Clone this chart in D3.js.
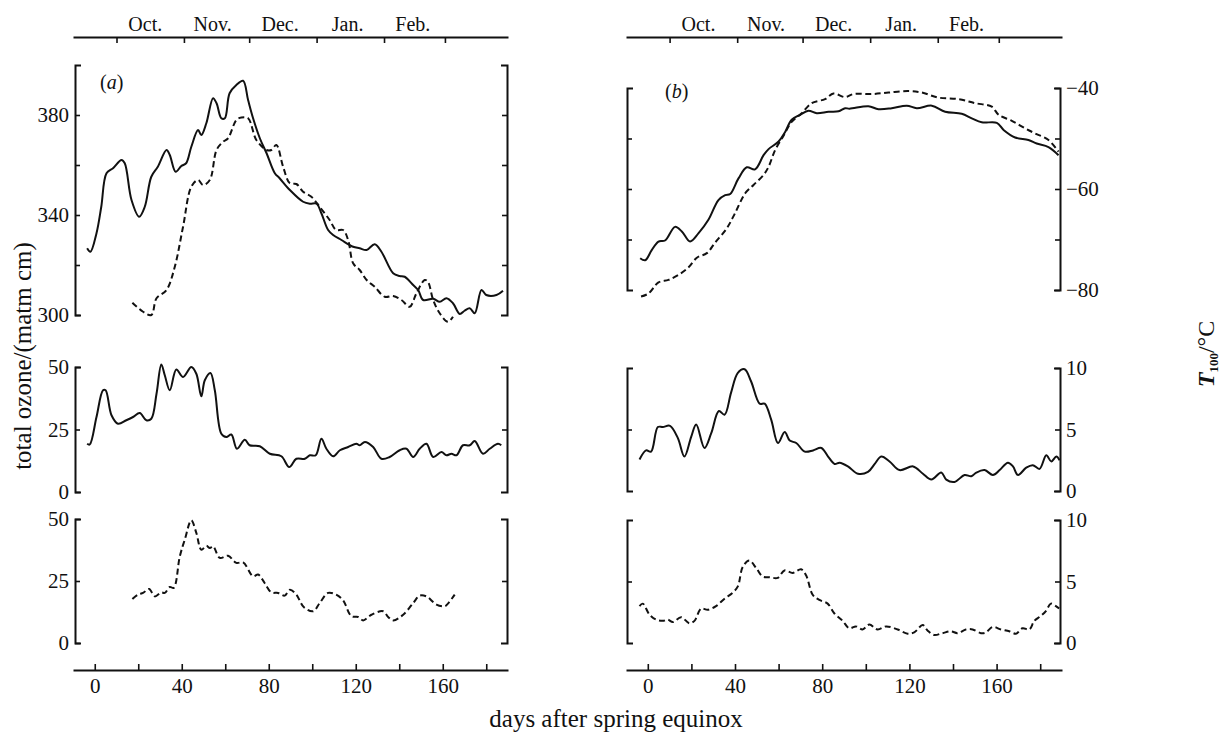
<!DOCTYPE html>
<html>
<head>
<meta charset="utf-8">
<script src="https://cdn.jsdelivr.net/npm/d3@7"></script>
<style>
body { margin: 0; background: #fff; }
svg text { font-family: "Liberation Serif", "Times New Roman", serif; fill: #111; }
</style>
</head>
<body>
<svg id="chart" width="1224" height="734"></svg>
<script>
// month axis (days after spring equinox)
var monthStarts = [10, 41, 71, 102, 133, 161];
var monthMids = [23, 54, 85, 116, 146];
var monthNames = ["Oct.", "Nov.", "Dec.", "Jan.", "Feb."];
var dayTicks = [0, 20, 40, 60, 80, 100, 120, 140, 160, 180];
var dayLabels = [0, 40, 80, 120, 160];

// (a) total ozone, solid / dashed
var aOzoneSolidDays = [-3.5,-2,0.8,3,5.4,8.4,12.3,13.8,16.9,20.4,23,26,29,33,34.5,37.2,39.8,42,44.4,47.5,49,51.3,54.4,56,58.2,59.8,62,65.1,68.2,70.5,72.8,75.9,79,82.8,85,89.7,95.8,98.9,102,104.2,107.3,109.6,113.4,118.8,121.8,125,128.7,131.8,137.2,140.2,142.5,146.4,148.7,151,155.6,158.6,161.7,164.7,167.8,170,172.4,174.7,177.8,180,184.7,187.7];
var aOzoneSolid = [326.7,325.3,332.7,343.3,356.7,358.7,362,360.7,346,339.3,343.3,355.3,359.3,366,364,357.3,359.6,360.7,367.3,374,372,376.7,386.7,384.7,378.7,378.7,388.7,392,393.7,386,378.7,370.7,364.7,356.7,354.7,350,345.3,344.5,344.5,340.7,334,332,330,327.3,326.7,326,328.3,325.3,316.7,315.6,315.3,312,310,306,306.5,305.3,306.7,304.7,300.4,301.7,302.7,300.7,310,308,308,309.7];
var aOzoneDashDays = [17.3,22.2,26,28.4,33,36.8,40.6,44.4,47.5,49.8,52.9,56,59,61.3,65.1,67.4,70.5,74.3,79,81.2,83.5,86.6,89.7,92.7,95.8,99.6,103.4,108,111,114.2,116.5,118.8,121.8,125,128.7,133.3,137.2,141,144.8,147.9,151.7,153.2,155.6,158.6,162.4,164.7];
var aOzoneDash = [304.9,301.3,300,306.7,310,319.3,335.3,351.3,354,352,354,366,369.3,370.7,378,379,378.7,370,366,366,368,359.3,352.7,352.4,349.3,347.3,343.3,338,334,334,330,320.7,318,314,311.3,307.3,307.6,306,303.3,308.7,314,313.3,306,300.7,297.3,299.3];

// (a) lower panels
var aMidDays = [-3.5,-2.3,0.8,3.8,5,7.7,10.7,14.5,17.6,20.7,23.7,26,28.4,30.6,32.2,34.5,37.5,40.6,44.4,46.7,49,50.6,53.2,55.2,58.2,60.5,62.8,65.4,69,71.2,75.9,80.5,85.8,89.4,92.7,96.6,98.9,101.6,104.2,106.5,109.6,112.7,116.5,120.3,121.8,124.2,128,131.8,135.6,140.2,143.3,146.4,149.4,152.5,155.6,159.4,161.7,164,166.3,169.3,172.4,174.7,178.5,181.6,185.4,186.9];
var aMid = [19.3,19,30,40.7,40.7,30.7,27.3,28.7,30,31.6,28.7,29.3,39.3,51,46.7,40.7,49,46,50,47.3,38.3,44.7,47.6,40.7,23.3,22,23,17.3,20.9,18.7,18.3,15.3,14.3,10,13.3,13.3,14.7,14.7,21.3,17.3,14.3,16.7,18,19.3,18.7,20,18,13.3,14,16.7,17.3,14,17.3,19.3,14,16,14.7,15.3,14.7,18.7,18.7,20.4,15.3,17.3,19.3,18.7];
var aBotDays = [17.3,19.9,22.2,25,27.6,30.6,32.2,34.5,36.3,39.1,41.4,44.4,46.7,49,51.3,52.9,54.4,57.5,61.3,65.1,68.2,72.8,75.1,78.1,81.2,84.3,87.3,89.7,92.7,96.1,100.4,103.4,107.3,111,114.2,118,121.1,123.4,127.2,132.6,134.9,137.2,141.8,146.4,149.4,152.5,157.1,160.9,162.4,165.5];
var aBot = [17.7,19.5,20.2,21.8,18.8,20.4,20.2,22.6,22.2,34.9,41.7,49.5,44.4,37.6,39.2,38.3,39,34.3,35.2,32.3,32.5,26.9,27.6,24.2,20.4,20.2,19.1,21.5,19.5,14.5,12.8,16.1,20.2,19.5,17.2,10.8,10.5,9.1,11.4,12.8,10.5,9.1,11.4,16.1,19.1,18.8,15.5,14.8,15.9,19.5];

// (b) T100, solid / dashed
var bTempSolidDays = [-3.5,-1.2,1.8,4.9,7.9,12.5,15.6,19.4,23.2,27.8,32.4,35.5,37.8,41.6,45.4,49.2,53.1,55.4,60,63,66,69.9,73.7,77.5,82.9,87.5,90.5,92.5,101.2,105.8,111.9,118.8,123.4,130.3,136.4,144,148.6,153.2,160.1,163.2,168.5,174.6,178.4,183.8,188.4];
var bTempSolid = [-73.7,-74.1,-72.1,-70.4,-70.2,-67.5,-68.4,-70.4,-68.8,-66.1,-62.2,-61.2,-61,-57.9,-55.7,-56.1,-53.3,-52.1,-50.6,-48.7,-46.3,-45.3,-44.5,-45,-44.7,-44.6,-44,-44.1,-43.6,-44.2,-44,-43.5,-44,-43.5,-44.7,-45.1,-46,-46.8,-46.9,-48.3,-49.8,-50.3,-51,-51.7,-53.3];
var bTempDashDays = [-3.1,0.3,4.9,9.5,14.1,18.7,22.5,27.1,30.9,36.2,40,44.6,48.5,53.1,55.4,58.4,62.2,66,70.6,75.2,81.3,85.2,90.5,94.3,102.8,110.4,119.6,125.7,133.3,142.5,150.1,157.8,160.9,167,173.1,177.7,183.8,188.4];
var bTempDash = [-81.3,-80.7,-78.5,-78,-77,-75.5,-73.6,-72.7,-70.6,-67.8,-64.8,-60.9,-59.2,-57.2,-55.6,-52.3,-49.5,-46.7,-45,-43,-42.2,-41.1,-41.8,-41.2,-41.2,-40.9,-40.6,-40.9,-41.9,-42.2,-43,-43.7,-45.3,-46.5,-48,-49,-50.3,-52.6];

// (b) lower panels
var bMidDays = [-3.8,-0.8,1.5,4.6,6.9,10.2,13.8,16.8,19.9,22.2,26,29.1,32.6,35.2,38.2,41.3,44.4,47.4,51.3,53.6,56.6,59.7,62.8,65.1,68.1,72,75.8,79.6,82.7,85.7,88,91.8,96.4,101,104.1,107.1,110.9,115.5,121.7,126.2,130.1,134.6,136.9,140.7,145.3,148.4,150.7,154.5,158.3,161.4,165.2,167.5,169.8,173.6,176.6,179.7,182.8,185.1,187.4,188.9];
var bMid = [2.56,3.3,3.2,5.2,5.2,5.3,4.3,2.8,4.4,5.4,3.5,4.7,6.5,6.2,8,9.6,9.9,8.9,7.1,7.1,5.8,3.9,4.8,4.1,3.9,3.2,3.3,3.5,2.8,2.2,2.3,2,1.4,1.55,2.2,2.8,2.4,1.7,2,1.4,0.93,1.5,0.93,0.74,1.3,1.2,1.5,1.7,1.3,1.7,2.3,2,1.3,1.9,2.1,1.8,2.9,2.4,2.8,2.5];
var bBotDays = [-3.8,-2.3,0.8,3.8,6.9,9.2,11.5,15.3,19.1,21.4,24.5,27.5,31.3,35.2,39,41.3,43.6,46.6,49.7,52.7,55.8,59.6,62.7,66.5,70.3,72.6,75.7,78.7,82.5,85.6,89.4,92.4,95.5,98.5,101.6,105.4,109.3,114.6,119.2,122.2,126.1,128.4,131.4,135.2,139.1,142.1,145.9,149,152.8,155.1,158.2,162,165.8,168.9,171.9,175,177.3,180.3,182.6,184.9,187.2,188.7];
var bBot = [3,3.2,2.3,1.9,1.8,1.9,1.7,2.1,1.6,1.8,2.8,2.7,3,3.6,4.1,4.6,6.2,6.7,6.1,5.4,5.35,5.3,5.9,5.7,6,5.5,3.9,3.5,3.2,2.4,1.8,1.2,1.35,1.1,1.5,1.1,1.35,1.1,0.76,0.86,1.46,1,0.65,0.8,0.95,0.8,1.1,1.1,0.8,0.86,1.3,1.1,0.95,0.76,1.2,1.1,1.8,2.2,2.6,3.2,3,2.8];

var svg = d3.select('#chart');
var FONT = '"Liberation Serif", "Times New Roman", serif';

var xA = d3.scaleLinear().domain([-10, 190]).range([73, 508]);
var xB = d3.scaleLinear().domain([-10, 190]).range([626, 1062]);

var yA1 = d3.scaleLinear().domain([300, 400]).range([315, 65]);
var yA2 = d3.scaleLinear().domain([0, 50]).range([492, 367]);
var yA3 = d3.scaleLinear().domain([0, 50]).range([643, 519]);
var yB1 = d3.scaleLinear().domain([-80, -40]).range([290, 88]);
var yB2 = d3.scaleLinear().domain([0, 10]).range([491, 368]);
var yB3 = d3.scaleLinear().domain([0, 10]).range([643, 520]);

function styleAxis(g, size) {
	g.attr("font-family", FONT).attr("font-size", size);
	g.select(".domain").attr("stroke", "#111").attr("stroke-width", 2);
	g.selectAll(".tick line").attr("stroke", "#111").attr("stroke-width", 1.6);
	g.selectAll(".tick text").attr("fill", "#111");
}

// vertical bracket axis, ticks pointing inward
function yAxis(xpos, y, side, ticks, labels) {
	var ax = (side == "left" ? d3.axisLeft(y) : d3.axisRight(y))
		.tickValues(ticks)
		.tickSize(-5)
		.tickSizeOuter(-6)
		.tickPadding(6)
		.tickFormat(function(d) { return labels.indexOf(d) >= 0 ? d3.format("")(d) : ""; });
	var g = svg.append("g").attr("transform", "translate(" + xpos + ",0)").call(ax);
	styleAxis(g, 21);
}

function xAxes(x) {
	var bottom = svg.append("g").attr("transform", "translate(0,670)")
		.call(d3.axisBottom(x).tickValues(dayTicks).tickSize(-6).tickSizeOuter(0).tickPadding(8)
			.tickFormat(function(d) { return dayLabels.indexOf(d) >= 0 ? d : ""; }));
	styleAxis(bottom, 21);
	var top = svg.append("g").attr("transform", "translate(0,37)")
		.call(d3.axisTop(x).tickValues(monthStarts).tickSize(-6).tickSizeOuter(0).tickFormat(""));
	styleAxis(top, 20);
	var names = svg.append("g").attr("transform", "translate(0,37)")
		.call(d3.axisTop(x).tickValues(monthMids).tickSize(0).tickPadding(6)
			.tickFormat(function(d, i) { return monthNames[i]; }));
	styleAxis(names, 20);
	names.select(".domain").remove();
}

function curve(x, y, days, vals, dashed) {
	var line = d3.line()
		.x(function(d) { return x(d[0]); })
		.y(function(d) { return y(d[1]); })
		.curve(d3.curveCatmullRom.alpha(0.5));
	svg.append("path")
		.datum(d3.zip(days, vals))
		.attr("d", line)
		.attr("fill", "none")
		.attr("stroke", "#111")
		.attr("stroke-width", 2)
		.attr("stroke-linejoin", "round")
		.attr("stroke-dasharray", dashed ? "6,3.5" : null);
}

// panel (a)
xAxes(xA);
yAxis(75, yA1, "left", [300, 320, 340, 360, 380], [300, 340, 380]);
yAxis(507, yA1, "right", [320, 340, 360, 380], []);
yAxis(75, yA2, "left", [0, 25, 50], [0, 25, 50]);
yAxis(507, yA2, "right", [25], []);
yAxis(75, yA3, "left", [0, 25, 50], [0, 25, 50]);
yAxis(507, yA3, "right", [25], []);

curve(xA, yA1, aOzoneSolidDays, aOzoneSolid, false);
curve(xA, yA1, aOzoneDashDays, aOzoneDash, true);
curve(xA, yA2, aMidDays, aMid, false);
curve(xA, yA3, aBotDays, aBot, true);

// panel (b)
xAxes(xB);
yAxis(627, yB1, "left", [-50, -60, -70], []);
yAxis(1060, yB1, "right", [-40, -50, -60, -70, -80], [-40, -60, -80]);
yAxis(627, yB2, "left", [5], []);
yAxis(1060, yB2, "right", [0, 5, 10], [0, 5, 10]);
yAxis(627, yB3, "left", [5], []);
yAxis(1060, yB3, "right", [0, 5, 10], [0, 5, 10]);

curve(xB, yB1, bTempSolidDays, bTempSolid, false);
curve(xB, yB1, bTempDashDays, bTempDash, true);
curve(xB, yB2, bMidDays, bMid, false);
curve(xB, yB3, bBotDays, bBot, true);

// panel letters
var la = svg.append("text").attr("x", 100).attr("y", 89).attr("font-size", 20);
la.append("tspan").text("(");
la.append("tspan").attr("font-style", "italic").text("a");
la.append("tspan").text(")");
var lb = svg.append("text").attr("x", 665).attr("y", 98).attr("font-size", 20);
lb.append("tspan").text("(");
lb.append("tspan").attr("font-style", "italic").text("b");
lb.append("tspan").text(")");

// axis titles
svg.append("text")
	.attr("transform", "translate(31,356) rotate(-90)")
	.attr("text-anchor", "middle")
	.attr("font-size", 25)
	.text("total ozone/(matm cm)");

var tl = svg.append("text")
	.attr("transform", "translate(1214,354) rotate(-90)")
	.attr("text-anchor", "middle")
	.attr("font-size", 24)
	.attr("font-weight", "bold");
tl.append("tspan").attr("font-style", "italic").text("T");
tl.append("tspan").attr("font-size", 13).attr("dy", 4).text("100");
tl.append("tspan").attr("dy", -4).attr("font-weight", "normal").text("/°C");

svg.append("text")
	.attr("x", 616)
	.attr("y", 727)
	.attr("text-anchor", "middle")
	.attr("font-size", 25)
	.text("days after spring equinox");
</script>
</body>
</html>
